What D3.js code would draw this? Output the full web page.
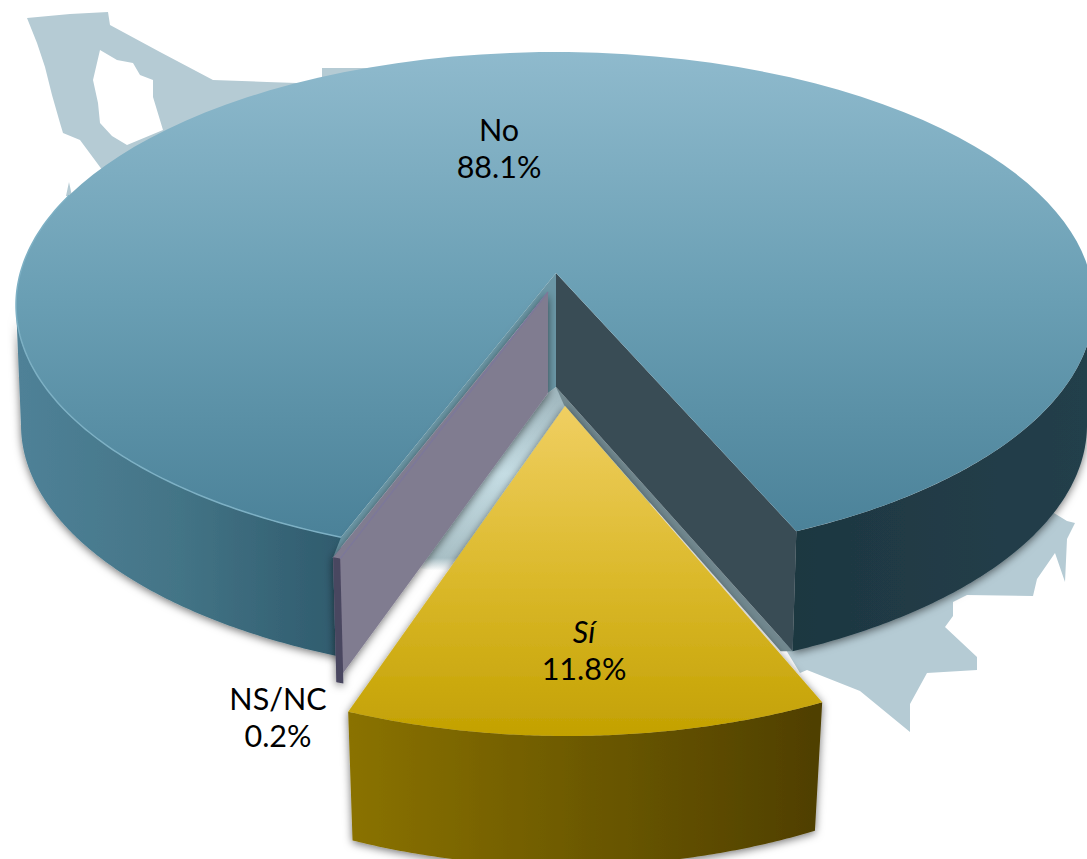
<!DOCTYPE html>
<html>
<head>
<meta charset="utf-8">
<script src="https://cdn.jsdelivr.net/npm/d3@7"></script>
<style>
    html, body { margin: 0; padding: 0; background: #fff; overflow: hidden; }
    text { font-family: Lato, sans-serif; fill: #000; text-anchor: middle; }
</style>
</head>
<body>
<div id="chart"></div>
<script>
const categories = ["Sí", "NS/NC", "No"];
const percentages = [11.8, 0.2, 88.1];

const width = 1087;
const height = 859;

//backdrop map, only the parts that stick out from behind the pie
const mapNorthWest = [[27,18],[70,14],[108,12],[110,25],[160,52],[213,80],[267,82],[297,83],[400,120],[200,300],[100,167],[80,140],[63,133],[60,123],[52,95],[45,67],[37,43]];
const mapGulf = [[100,50],[117,60],[133,63],[140,75],[153,80],[153,97],[163,130],[127,145],[112,136],[100,123],[98,103],[93,80]];
const mapNorth = [[322,68],[372,68],[372,110],[322,110]];
const mapSpike = [[69,182],[72,196],[66,196]];
const mapSouthEast = [[1067,521],[1075,523],[1067,539],[1065,582],[1055,553],[1037,579],[1033,596],[967,595],[953,602],[953,616],[945,627],[977,657],[977,670],[927,673],[910,704],[910,732],[860,691],[807,670],[800,673],[780,640],[1000,480]];

//ellipse of the top and of the bottom of each slice
const shapes = {
    "No": {
        top: { cx: 555, cy: 305, rx: 539, ry: 253 },
        bottom: { cx: 554, cy: 425, rx: 533, ry: 253 },
        apex: [556, 273],
        apexDepth: 114
    },
    "NS/NC": {
        top: { cx: 547.5, cy: 325, rx: 540, ry: 253 },
        bottom: { cx: 548, cy: 450, rx: 533, ry: 253 },
        apex: [548, 292],
        apexDepth: 101
    },
    "Sí": {
        top: { cx: 567, cy: 418, rx: 570, ry: 318 },
        bottom: { cx: 566, cy: 533, rx: 556, ry: 333 },
        apex: [565, 406],
        apexDepth: 0
    }
};

const rad = d => d * Math.PI / 180;

//near side of the pie looks wider because of the perspective
const warp = a => a + rad(5) * Math.sin(2 * (a - Math.PI));
const rimPoint = (e, a) => [e.cx + e.rx * Math.sin(warp(a)), e.cy - e.ry * Math.cos(warp(a))];
const rim = (e, a0, a1) => d3.range(0, 121).map(i => rimPoint(e, a0 + (a1 - a0) * i / 120));

const pie = d3.pie().sort(null).startAngle(rad(157)).endAngle(rad(157 + 360));
const slices = pie(percentages).map((d, i) => ({ ...d, name: categories[i] }));
const slice = name => slices.find(d => d.name === name);

const line = d3.line().curve(d3.curveLinear);
const closed = pts => line(pts) + "Z";

const svg = d3.select("#chart").append("svg")
    .attr("width", width)
    .attr("height", height);

const defs = svg.append("defs");

function gradient(id, horizontal, x0, x1, stops) {
    const g = defs.append("linearGradient")
        .attr("id", id)
        .attr("gradientUnits", "userSpaceOnUse")
        .attr("x1", horizontal ? x0 : 0)
        .attr("x2", horizontal ? x1 : 0)
        .attr("y1", horizontal ? 0 : x0)
        .attr("y2", horizontal ? 0 : x1);
    stops.forEach(s => g.append("stop").attr("offset", s[0]).attr("stop-color", s[1]));
}

gradient("noTop", false, 52, 540, [[0, "#8fbacd"], [0.5, "#6a9fb4"], [1, "#4a8198"]]);
gradient("noWallLeft", true, 20, 340, [[0, "#4f8197"], [0.5, "#437486"], [1, "#2f5b6d"]]);
gradient("noWallRight", true, 790, 1087, [[0, "#1e3741"], [1, "#233f4b"]]);
gradient("siTop", false, 406, 736, [[0, "#f0cf62"], [0.5, "#dcba2d"], [1, "#c3a102"]]);
gradient("siWall", true, 350, 820, [[0, "#8a7203"], [0.5, "#6c5900"], [1, "#4f3f00"]]);
gradient("gap", false, 390, 600, [[0, "#9fb6bd"], [0.4, "#c5dde4"], [0.8, "#a9c0c6"], [0.86, "#ffffff"]]);

const shadow = defs.append("filter")
    .attr("id", "shadow")
    .attr("x", "-10%").attr("y", "-10%")
    .attr("width", "120%").attr("height", "120%");
shadow.append("feDropShadow")
    .attr("dx", 0).attr("dy", 2)
    .attr("stdDeviation", 4)
    .attr("flood-color", "#000")
    .attr("flood-opacity", 0.55);

//backdrop
const mapColor = "#b5cbd4";
svg.append("path")
    .attr("fill", mapColor)
    .attr("fill-rule", "evenodd")
    .attr("d", closed(mapNorthWest) + closed(mapGulf));
[mapNorth, mapSpike, mapSouthEast].forEach(pts => {
    svg.append("path").attr("fill", mapColor).attr("d", closed(pts));
});

//outer wall of the big slice, both ends
const no = slice("No");
const wall = (e0, e1, a0, a1) => closed(rim(e0, a0, a1).concat(rim(e1, a1, a0)));
const noShape = shapes["No"];

const walls = svg.append("g").attr("filter", "url(#shadow)");
walls.append("path")
    .attr("fill", "url(#noWallLeft)")
    .attr("d", wall(noShape.top, noShape.bottom, no.startAngle, rad(270)));
walls.append("path")
    .attr("fill", "url(#noWallRight)")
    .attr("d", wall(noShape.top, noShape.bottom, rad(450), no.endAngle));

//gap between the slices, the map shows through it
const noApexLow = [noShape.apex[0], noShape.apex[1] + noShape.apexDepth];
const noLeft = rimPoint(noShape.top, no.startAngle);
const noRight = rimPoint(noShape.top, no.endAngle);
const noRightLow = rimPoint(noShape.bottom, no.endAngle);

const ns = slice("NS/NC");
const nsShape = shapes["NS/NC"];
const nsApexLow = [nsShape.apex[0], nsShape.apex[1] + nsShape.apexDepth];
const nsTop = rimPoint(nsShape.top, ns.endAngle);
const nsLow = rimPoint(nsShape.bottom, ns.endAngle);
const nsTopFar = rimPoint(nsShape.top, ns.startAngle);
const nsLowFar = rimPoint(nsShape.bottom, ns.startAngle);

svg.append("path")
    .attr("fill", "url(#gap)")
    .attr("d", closed([noApexLow, nsApexLow, [nsLow[0] + 80, nsLow[1] - 115], [640, 620], [650, 500]]));

//grey edge under the dark face
svg.append("path")
    .attr("fill", "#71888f")
    .attr("d", closed([noApexLow, noRightLow, [noRightLow[0] - 12, noRightLow[1]], [noApexLow[0] + 8, noApexLow[1] + 18]]));

//cut face of the big slice on the right
svg.append("path")
    .attr("fill", "#394c55")
    .attr("d", closed([noShape.apex, noRight, noRightLow, noApexLow]));

//top of the big slice
svg.append("path")
    .attr("fill", "url(#noTop)")
    .attr("d", closed([noShape.apex].concat(rim(noShape.top, no.startAngle, no.endAngle))));

//light rim on the left edge
svg.append("path")
    .attr("fill", "none")
    .attr("stroke", "#7db0c4")
    .attr("stroke-width", 1.5)
    .attr("d", line(rim(noShape.top, no.startAngle, rad(300))));

//light band behind the thin slice
svg.append("path")
    .attr("fill", "#6b97a6")
    .attr("d", closed([noShape.apex, noLeft, nsTop, nsShape.apex, nsApexLow, noApexLow]));

//thin slice
const nsGroup = svg.append("g").attr("filter", "url(#shadow)");
nsGroup.append("path")
    .attr("fill", "#807b90")
    .attr("d", closed([nsShape.apex, nsTop, nsLow, nsApexLow]));
nsGroup.append("path")
    .attr("fill", "#4a4760")
    .attr("d", closed([nsTop, nsTopFar, nsLowFar, nsLow]));
svg.append("path")
    .attr("fill", "none")
    .attr("stroke", "#7c7899")
    .attr("stroke-width", 1.5)
    .attr("d", line([nsShape.apex, nsTopFar]));

//yes slice
const si = slice("Sí");
const siShape = shapes["Sí"];
const siGroup = svg.append("g").attr("filter", "url(#shadow)");
siGroup.append("path")
    .attr("fill", "url(#siWall)")
    .attr("d", wall(siShape.top, siShape.bottom, si.startAngle, si.endAngle));
siGroup.append("path")
    .attr("fill", "url(#siTop)")
    .attr("d", closed([siShape.apex].concat(rim(siShape.top, si.startAngle, si.endAngle))));

//labels
const labelPos = {
    "No": { x: 499, y: 141, italic: false },
    "Sí": { x: 584, y: 643, italic: true },
    "NS/NC": { x: 278, y: 710, italic: false }
};

slices.forEach(d => {
    const p = labelPos[d.name];
    svg.append("text")
        .attr("x", p.x)
        .attr("y", p.y)
        .attr("font-size", 30.5)
        .attr("font-style", p.italic ? "italic" : "normal")
        .text(d.name);
    svg.append("text")
        .attr("x", p.x)
        .attr("y", p.y + 37)
        .attr("font-size", 30.5)
        .text(d.value + "%");
});
</script>
</body>
</html>
